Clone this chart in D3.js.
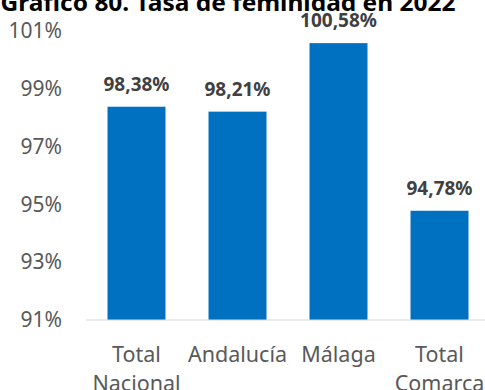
<!DOCTYPE html>
<html><head><meta charset="utf-8">
<script src="https://cdn.jsdelivr.net/npm/d3@7"></script>
<style>body{margin:0;background:#fff;} svg{display:block;}</style>
</head><body>
<svg id="c" width="485" height="390"></svg>
<script>
const categories = [["Total","Nacional"],["Andalucía"],["Málaga"],["Total","Comarca"]];
const values = [98.38, 98.21, 100.58, 94.78];
const valueLabels = ["98,38%","98,21%","100,58%","94,78%"];
const yTicks = [91, 93, 95, 97, 99, 101];
const title = "Gráfico 80. Tasa de feminidad en 2022";

const svg = d3.select("#c");
const font = "'Noto Sans', sans-serif";
const x = d3.scaleBand().domain(d3.range(values.length)).range([86, 490]).paddingInner(0.426).paddingOuter(0.213);
const y = d3.scaleLinear().domain([91, 101]).range([320, 31]);

svg.append("text").attr("x", 228).attr("y", 10.5).attr("text-anchor","middle")
  .attr("font-family", font).attr("font-weight","bold").attr("font-size", 23).attr("fill","#000")
  .attr("textLength", 455).attr("lengthAdjust","spacingAndGlyphs").text(title);

const yAxis = svg.append("g").attr("transform","translate(86,0)")
  .call(d3.axisLeft(y).tickValues(yTicks).tickSize(0).tickPadding(24).tickFormat(d => d + "%"));
yAxis.select(".domain").remove();
yAxis.selectAll("text").attr("font-family", font).attr("font-size", 21).attr("fill","#595959");

svg.selectAll("rect.bar").data(values).join("rect").attr("class","bar")
  .attr("x",(d,i)=>x(i)).attr("width", x.bandwidth())
  .attr("y", d=>y(d)).attr("height", d=>y(91)-y(d)).attr("fill","#0070C0");

svg.append("line").attr("x1",86).attr("x2",485).attr("y1",y(91)).attr("y2",y(91))
  .attr("stroke","#d9d9d9").attr("stroke-width",1.2);

svg.selectAll("text.val").data(values).join("text").attr("class","val")
  .attr("x",(d,i)=>x(i)+x.bandwidth()/2).attr("y", d=>y(d)-16).attr("text-anchor","middle")
  .attr("font-family", font).attr("font-weight","bold").attr("font-size", 19).attr("fill","#404040")
  .text((d,i)=>valueLabels[i]);

const cat = svg.selectAll("text.cat").data(categories).join("text").attr("class","cat")
  .attr("text-anchor","middle").attr("font-family", font).attr("font-size", 21.5).attr("fill","#595959");
cat.each(function(lines, i){
  const t = d3.select(this);
  lines.forEach((l, j) => t.append("tspan").attr("x", x(i)+x.bandwidth()/2).attr("y", 362 + j*29).text(l));
});
</script>
</body></html>
